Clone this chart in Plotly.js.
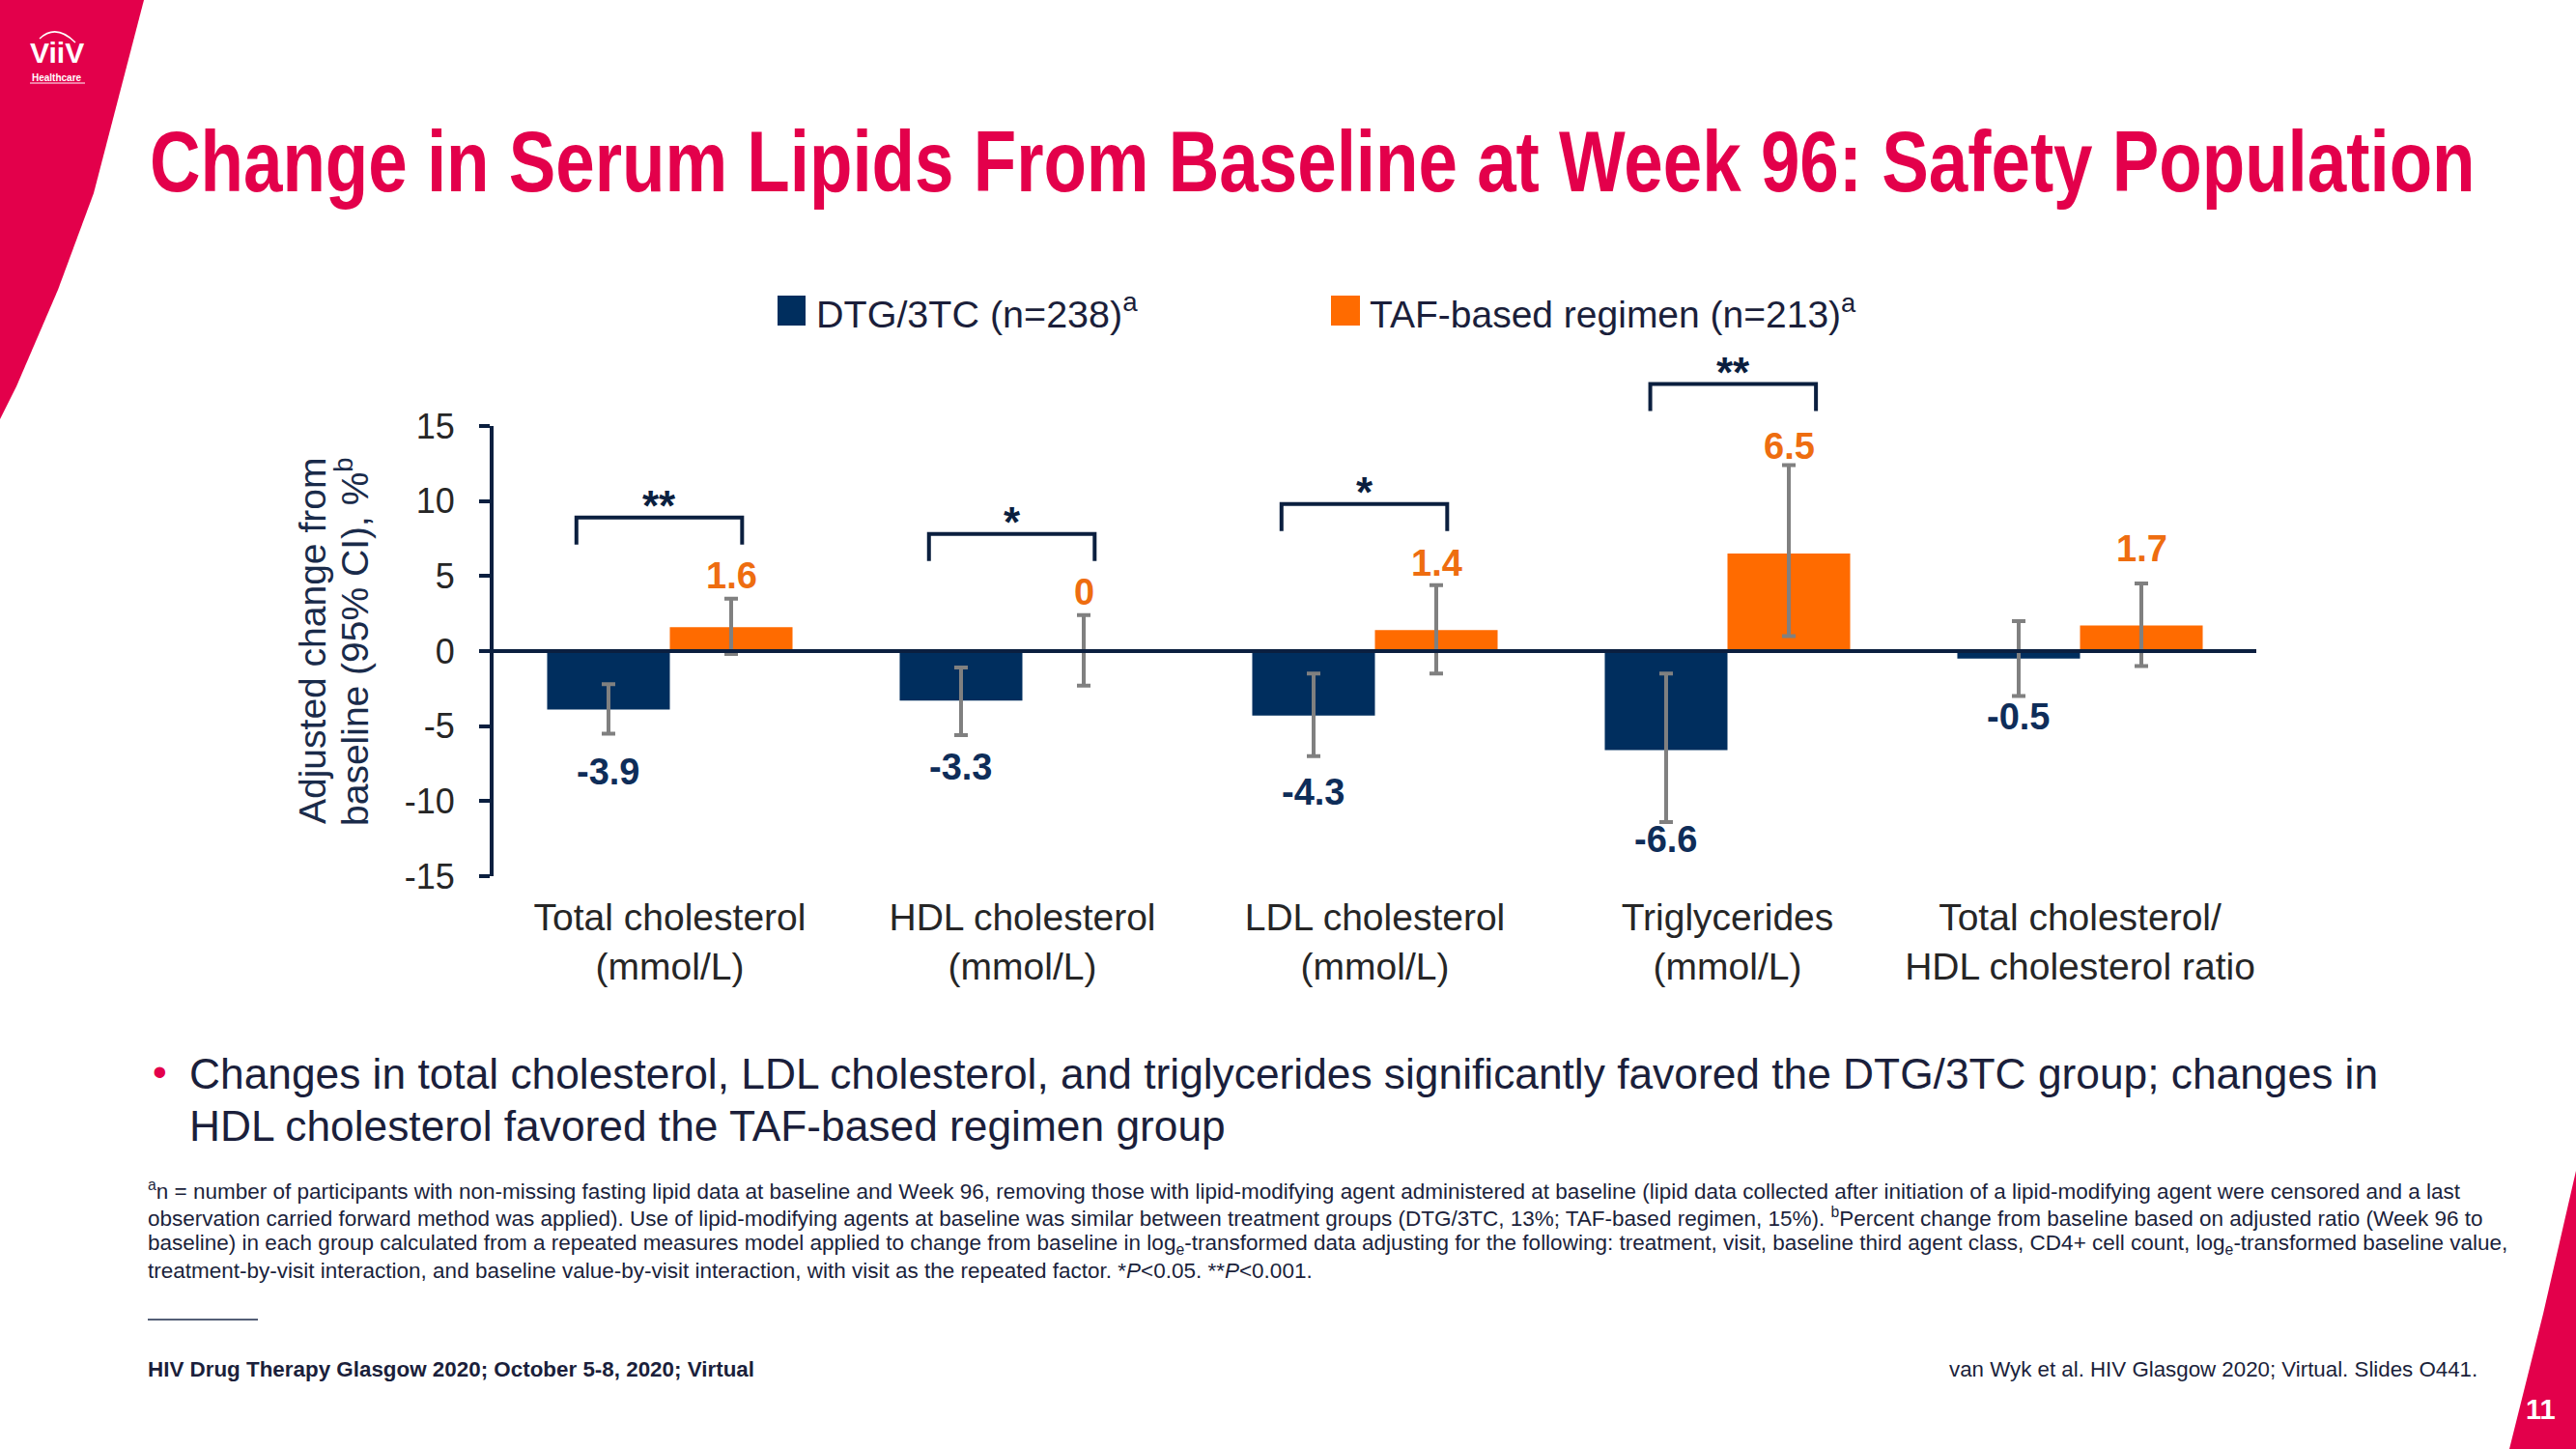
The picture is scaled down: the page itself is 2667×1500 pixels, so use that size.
<!DOCTYPE html>
<html>
<head>
<meta charset="utf-8">
<script src="https://cdn.plot.ly/plotly-3.0.1.min.js"></script>
<style>
html,body{margin:0;padding:0;background:#ffffff;}
#chart{width:2667px;height:1500px;}
</style>
</head>
<body>
<div id="chart"></div>
<script>
// ---------------- DATA ----------------
const categories = [
  "Total cholesterol<br>(mmol/L)",
  "HDL cholesterol<br>(mmol/L)",
  "LDL cholesterol<br>(mmol/L)",
  "Triglycerides<br>(mmol/L)",
  "Total cholesterol/<br>HDL cholesterol ratio"
];
const seriesNames = ["DTG/3TC (n=238)<sup>a</sup>", "TAF-based regimen (n=213)<sup>a</sup>"];
const dtgValues = [-3.9, -3.3, -4.3, -6.6, -0.5];
const dtgCiLow  = [-5.5, -5.6, -7.0, -11.4, -3.0];
const dtgCiHigh = [-2.2, -1.1, -1.5, -1.5, 2.0];
const tafValues = [1.6, 0, 1.4, 6.5, 1.7];
const tafCiLow  = [-0.2, -2.3, -1.5, 1.0, -1.0];
const tafCiHigh = [3.5, 2.4, 4.4, 12.4, 4.5];
const significance = ["**", "*", "*", "**", ""];
const yTickValues = [-15, -10, -5, 0, 5, 10, 15];
const yRange = [-15, 15];

// ---------------- STYLE / LAYOUT HELPERS ----------------
const W = 2667, H = 1500;
const mL = 511, mR = 331, mT = 441, mB = 593;
const plotW = W - mL - mR, plotH = H - mT - mB;
const px = x => (x - mL) / plotW;          // pixel x -> paper x
const py = y => (H - mB - y) / plotH;      // pixel y -> paper y
const nCat = categories.length;
const catPaper = c => (c + 0.5) / nCat;    // category position -> paper x
const valPaper = v => (v - yRange[0]) / (yRange[1] - yRange[0]);

const RED = '#E3004B';
const NAVY_AXIS = '#0B1F3F';
const NAVY_BAR = '#002E5E';
const ORANGE_BAR = '#FF6B00';
const NAVY_LABEL = '#0E2D59';
const ORANGE_LABEL = '#EE6D10';
const TEXT_DARK = '#1B1F3B';
const GREY = '#808080';
const FONT = '"Liberation Sans", Arial, Helvetica, sans-serif';

const bargap = 0.304;
const barOffset = (1 - bargap) / 4;   // centre of each bar relative to category centre
// hand placement tweaks of the value labels (pixels) and brackets (category units), as on the slide
const dtgLabelDown = [5, -2, 2, -17, -14];
const tafLabelUp = [-2, -2, -3, -7, 10];
const bracketShift = [0, 0, 0, 0.046, 0];

const diff = (a, b) => a.map((v, i) => v - b[i]);

const traces = [
  {
    type: 'bar', name: seriesNames[0], x: categories, y: dtgValues,
    marker: {color: NAVY_BAR, line: {width: 0}},
    error_y: {type: 'data', symmetric: false, array: diff(dtgCiHigh, dtgValues), arrayminus: diff(dtgValues, dtgCiLow),
              color: GREY, thickness: 4, width: 7},
    hoverinfo: 'skip'
  },
  {
    type: 'bar', name: seriesNames[1], x: categories, y: tafValues,
    marker: {color: ORANGE_BAR, line: {width: 0}},
    error_y: {type: 'data', symmetric: false, array: diff(tafCiHigh, tafValues), arrayminus: diff(tafValues, tafCiLow),
              color: GREY, thickness: 4, width: 7},
    hoverinfo: 'skip'
  }
];

const annotations = [];
const shapes = [];
const ann = (o) => annotations.push(Object.assign({showarrow: false, xref: 'paper', yref: 'paper'}, o));

// value labels
categories.forEach((c, i) => {
  ann({xref: 'x', yref: 'y', x: i - barOffset, y: dtgCiLow[i], yanchor: 'top', xanchor: 'center', yshift: -12 - dtgLabelDown[i],
       text: String(dtgValues[i]), font: {family: FONT, size: 38, color: NAVY_LABEL, weight: 'bold'}});
  ann({xref: 'x', yref: 'y', x: i + barOffset, y: tafCiHigh[i], yanchor: 'bottom', xanchor: 'center', yshift: 3 + tafLabelUp[i],
       text: String(tafValues[i]), font: {family: FONT, size: 38, color: ORANGE_LABEL, weight: 'bold'}});
});

// significance brackets
categories.forEach((c, i) => {
  if (!significance[i]) return;
  const base = Math.max(dtgCiHigh[i], tafCiHigh[i], 0) + 3.6;
  const top = base + 1.8;
  const xl = catPaper(i - 0.265 + bracketShift[i]), xr = catPaper(i + 0.205 + bracketShift[i]);
  shapes.push({type: 'path', xref: 'paper', yref: 'paper',
    path: `M ${xl} ${valPaper(base)} L ${xl} ${valPaper(top)} L ${xr} ${valPaper(top)} L ${xr} ${valPaper(base)}`,
    line: {color: NAVY_AXIS, width: 4}, fillcolor: 'rgba(0,0,0,0)'});
  ann({x: (xl + xr) / 2, y: valPaper(top), yanchor: 'bottom', xanchor: 'center', yshift: -14,
       text: significance[i], font: {family: FONT, size: 44, color: NAVY_AXIS, weight: 'bold'}});
});

// y-axis title (two lines)
ann({x: px(323), y: py(664), textangle: -90, xanchor: 'center', yanchor: 'middle',
     text: 'Adjusted change from', font: {family: FONT, size: 39, color: '#1A2B4A'}});
ann({x: px(364), y: py(664), textangle: -90, xanchor: 'center', yanchor: 'middle',
     text: 'baseline (95% CI), %<sup>b</sup>', font: {family: FONT, size: 39, color: '#1A2B4A'}});

// legend (drawn)
shapes.push({type: 'rect', xref: 'paper', yref: 'paper', x0: px(805), x1: px(834), y0: py(337), y1: py(306),
             fillcolor: NAVY_BAR, line: {width: 0}});
shapes.push({type: 'rect', xref: 'paper', yref: 'paper', x0: px(1378), x1: px(1408), y0: py(337), y1: py(306),
             fillcolor: ORANGE_BAR, line: {width: 0}});
ann({x: px(843), y: py(322), xanchor: 'left', yanchor: 'middle', text: seriesNames[0],
     font: {family: FONT, size: 39.5, color: TEXT_DARK}});
ann({x: px(1416), y: py(322), xanchor: 'left', yanchor: 'middle', text: seriesNames[1],
     font: {family: FONT, size: 39, color: TEXT_DARK}});

// bullet text
ann({x: px(165), y: py(1109), xanchor: 'center', yanchor: 'middle', text: '•',
     font: {family: FONT, size: 42, color: RED}});
ann({x: px(194), y: py(1111), xanchor: 'left', yanchor: 'middle',
     text: 'Changes in total cholesterol, LDL cholesterol, and triglycerides significantly favored the DTG/3TC group; changes in',
     font: {family: FONT, size: 44.3, color: TEXT_DARK}});
ann({x: px(194), y: py(1165), xanchor: 'left', yanchor: 'middle',
     text: 'HDL cholesterol favored the TAF-based regimen group',
     font: {family: FONT, size: 44.3, color: TEXT_DARK}});

// footnotes
const footLines = [
  '<sup>a</sup>n = number of participants with non-missing fasting lipid data at baseline and Week 96, removing those with lipid-modifying agent administered at baseline (lipid data collected after initiation of a lipid-modifying agent were censored and a last',
  'observation carried forward method was applied). Use of lipid-modifying agents at baseline was similar between treatment groups (DTG/3TC, 13%; TAF-based regimen, 15%). <sup>b</sup>Percent change from baseline based on adjusted ratio (Week 96 to',
  'baseline) in each group calculated from a repeated measures model applied to change from baseline in log<sub>e</sub>-transformed data adjusting for the following: treatment, visit, baseline third agent class, CD4+ cell count, log<sub>e</sub>-transformed baseline value,',
  'treatment-by-visit interaction, and baseline value-by-visit interaction, with visit as the repeated factor. *<i>P</i>&lt;0.05. **<i>P</i>&lt;0.001.'
];
footLines.forEach((t, k) => {
  ann({x: px(151), y: py(1232 + k * 27.8), xanchor: 'left', yanchor: 'middle', text: t,
       font: {family: FONT, size: 22.5, color: TEXT_DARK}});
});
shapes.push({type: 'line', xref: 'paper', yref: 'paper', x0: px(153), x1: px(267), y0: py(1366), y1: py(1366),
             line: {color: '#1B2A4A', width: 1.5}});
ann({x: px(151), y: py(1417), xanchor: 'left', yanchor: 'middle',
     text: 'HIV Drug Therapy Glasgow 2020; October 5-8, 2020; Virtual',
     font: {family: FONT, size: 22.4, color: TEXT_DARK, weight: 'bold'}});
ann({x: px(2567), y: py(1417), xanchor: 'right', yanchor: 'middle',
     text: 'van Wyk et al. HIV Glasgow 2020; Virtual. Slides O441.',
     font: {family: FONT, size: 22.3, color: TEXT_DARK}});

// decorative red corners
const pathPx = pts => 'M ' + pts.map(p => `${px(p[0])} ${py(p[1])}`).join(' L ') + ' Z';
shapes.push({type: 'path', xref: 'paper', yref: 'paper', layer: 'below',
  path: pathPx([[0,0],[149,0],[123,100],[97,200],[60,300],[17,400],[0,434]]),
  fillcolor: RED, line: {width: 0}});
shapes.push({type: 'path', xref: 'paper', yref: 'paper', layer: 'below',
  path: pathPx([[2667,1212],[2667,1500],[2598,1500],[2633,1360]]),
  fillcolor: RED, line: {width: 0}});
ann({x: px(2630), y: py(1459), xanchor: 'center', yanchor: 'middle', text: '11',
     font: {family: FONT, size: 29, color: '#FFFFFF', weight: 'bold'}});

// logo
ann({x: px(59), y: py(54), xanchor: 'center', yanchor: 'middle', text: 'ViiV',
     font: {family: FONT, size: 30, color: '#FFFFFF', weight: 'bold'}});
ann({x: px(59), y: py(80), xanchor: 'center', yanchor: 'middle', text: 'Healthcare',
     font: {family: FONT, size: 10, color: '#FFFFFF', weight: 'bold'}});
shapes.push({type: 'line', xref: 'paper', yref: 'paper', x0: px(31), x1: px(88), y0: py(86), y1: py(86),
             line: {color: '#FFFFFF', width: 1.2}});
shapes.push({type: 'path', xref: 'paper', yref: 'paper',
  path: `M ${px(41)} ${py(40)} Q ${px(58)} ${py(24)} ${px(78)} ${py(44)}`,
  line: {color: '#FFFFFF', width: 1.5}, fillcolor: 'rgba(0,0,0,0)'});

const TITLE_WIDTH = 2408;
const layout = {
  width: W, height: H,
  margin: {l: mL, r: mR, t: mT, b: mB, pad: 0},
  paper_bgcolor: '#FFFFFF', plot_bgcolor: 'rgba(0,0,0,0)',
  showlegend: false,
  barmode: 'group', bargap: bargap, bargroupgap: 0,
  title: {
    text: 'Change in Serum Lipids From Baseline at Week 96: Safety Population',
    x: 155 / W, xanchor: 'left', xref: 'container',
    y: 1 - 167 / H, yanchor: 'middle', yref: 'container',
    font: {family: FONT, size: 89, color: RED, weight: 'bold'}
  },
  xaxis: {
    type: 'category', range: [-0.5, nCat - 0.5],
    showline: false, ticks: '', showgrid: false, zeroline: false,
    tickfont: {family: FONT, size: 39, color: '#262626'},
    ticklabelstandoff: 16, fixedrange: true
  },
  yaxis: {
    range: yRange, tickvals: yTickValues, ticktext: yTickValues.map(String),
    showline: true, linewidth: 4, linecolor: NAVY_AXIS,
    ticks: 'outside', ticklen: 11, tickwidth: 4, tickcolor: NAVY_AXIS,
    showgrid: false, zeroline: true, zerolinewidth: 4, zerolinecolor: NAVY_AXIS, zerolinelayer: 'above traces',
    tickfont: {family: FONT, size: 36, color: '#262626'},
    ticklabelstandoff: 18, fixedrange: true
  },
  annotations: annotations,
  shapes: shapes
};

// condense the title horizontally (the slide uses a narrow bold face)
function condenseTitle() {
  const t = document.querySelector('.gtitle');
  if (!t || !t.getComputedTextLength) return;
  t.removeAttribute('transform');
  const len = t.getComputedTextLength();
  if (!len) return;
  const s = TITLE_WIDTH / len;
  const x0 = parseFloat(t.getAttribute('x')) || 0;
  t.setAttribute('transform', `translate(${x0},0) scale(${s},1) translate(${-x0},0)`);
}

Plotly.newPlot('chart', traces, layout, {displayModeBar: false, staticPlot: true}).then(condenseTitle);
</script>
</body>
</html>
